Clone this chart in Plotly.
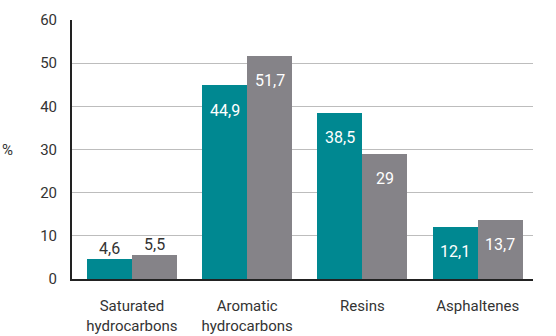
import plotly.graph_objects as go

categories = ["Saturated<br>hydrocarbons", "Aromatic<br>hydrocarbons", "Resins", "Asphaltenes"]
series_a = [4.6, 44.9, 38.5, 12.1]
series_b = [5.5, 51.7, 29.0, 13.7]
y_ticks = [0, 10, 20, 30, 40, 50, 60]

TEAL = "#008891"
GREY = "#858388"
TEXT = "#333333"
FONT = "Roboto"

bar_w = 0.39
xs = list(range(len(categories)))

fig = go.Figure()
fig.add_trace(go.Bar(x=xs, y=series_a, width=bar_w, offset=-bar_w,
                     marker=dict(color=TEAL, line=dict(width=0)), showlegend=False))
fig.add_trace(go.Bar(x=xs, y=series_b, width=bar_w, offset=0,
                     marker=dict(color=GREY, line=dict(width=0)), showlegend=False))


def fmt(v):
    s = f"{v:.1f}".rstrip("0").rstrip(".")
    return s.replace(".", ",")


# value labels: outside above short bars, inside near the top of taller ones
for vals, shift in ((series_a, -bar_w / 2), (series_b, bar_w / 2)):
    for i, v in enumerate(vals):
        inside = v > 10
        fig.add_annotation(
            x=i + shift, y=v, xref="x", yref="y", text=fmt(v), showarrow=False,
            yanchor="middle", yshift=-25 if inside else 11,
            font=dict(family=FONT, size=16, color="white" if inside else TEXT),
        )

fig.add_annotation(x=0, y=30, xref="paper", yref="y", xshift=-72, xanchor="left",
                   text="%", showarrow=False, font=dict(family=FONT, size=15, color=TEXT))

fig.update_layout(
    width=556, height=336,
    margin=dict(l=72, r=23, t=20, b=57, autoexpand=False),
    paper_bgcolor="white", plot_bgcolor="white",
    bargap=0, font=dict(family=FONT, size=15, color=TEXT),
)
fig.update_xaxes(
    range=[-0.52, 3.48], tickvals=xs, ticktext=categories, automargin=False,
    showline=True, linecolor="#222222", linewidth=2, showgrid=False,
    ticks="outside", ticklen=12, tickcolor="rgba(0,0,0,0)",
    tickfont=dict(family=FONT, size=15, color=TEXT),
)
fig.update_yaxes(
    range=[0, 60], tickvals=y_ticks, automargin=False,
    showline=True, linecolor="#222222", linewidth=2,
    showgrid=True, gridcolor="#bdbdbd", gridwidth=1, zeroline=False,
    ticks="outside", ticklen=10, tickcolor="rgba(0,0,0,0)",
    tickfont=dict(family=FONT, size=15, color=TEXT),
)

fig.write_html("out.html")
